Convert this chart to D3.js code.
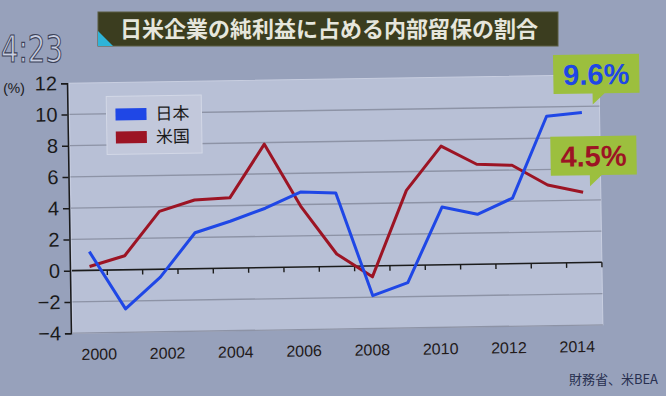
<!DOCTYPE html>
<html>
<head>
<meta charset="utf-8">
<script src="https://cdn.jsdelivr.net/npm/d3@7"></script>
<style>
  body { margin: 0; background: #97a1bb; }
  svg { display: block; }
</style>
</head>
<body>
<script>
// data
var years = [2000, 2001, 2002, 2003, 2004, 2005, 2006, 2007, 2008, 2009, 2010, 2011, 2012, 2013, 2014];
var japan = [1.2, -2.5, -0.5, 2.3, 3.0, 3.8, 4.8, 4.7, -1.9, -1.1, 3.7, 3.2, 4.2, 9.4, 9.6];
var usa   = [0.25, 0.9, 3.7, 4.4, 4.5, 7.9, 3.9, 0.8, -0.7, 4.8, 7.6, 6.4, 6.3, 5.0, 4.5];
var yTicks = [-4, -2, 0, 2, 4, 6, 8, 10, 12];
var xLabels = [2000, 2002, 2004, 2006, 2008, 2010, 2012, 2014];
var seriesNames = ["日本", "米国"];
var seriesColors = ["#1f47e6", "#9c1424"];
var lastLabels = ["9.6%", "4.5%"];

var svgWidth = 666, svgHeight = 396;

var svg = d3.select("body")
    .append("svg")
    .attr("width", svgWidth)
    .attr("height", svgHeight);

svg.append("rect")
    .attr("width", svgWidth)
    .attr("height", svgHeight)
    .attr("fill", "#97a1bb");

// title bar
svg.append("rect")
    .attr("x", 98).attr("y", 12)
    .attr("width", 460).attr("height", 34)
    .attr("fill", "#3b3d1f")
    .attr("stroke", "#5a5c40");
svg.append("path")
    .attr("d", "M98,31 L98,46 L113,46 Z")
    .attr("fill", "#2fb4d8");
svg.append("text")
    .attr("x", 329).attr("y", 37)
    .attr("text-anchor", "middle")
    .attr("font-family", "Noto Sans CJK JP")
    .attr("font-size", 22)
    .attr("font-weight", "bold")
    .attr("fill", "#e6e6dc")
    .text("日米企業の純利益に占める内部留保の割合");

// clock
svg.append("text")
    .attr("x", 1).attr("y", 62)
    .attr("font-family", "DejaVu Sans")
    .attr("font-size", 38)
    .attr("textLength", 62)
    .attr("lengthAdjust", "spacingAndGlyphs")
    .attr("fill", "#c9cfe2")
    .attr("stroke", "#3c4258")
    .attr("stroke-width", 1.2)
    .text("4:23");

// source
svg.append("text")
    .attr("x", 658).attr("y", 384)
    .attr("text-anchor", "end")
    .attr("font-family", "Noto Sans CJK JP")
    .attr("font-size", 13)
    .attr("fill", "#283050")
    .text("財務省、米BEA");

// chart, slightly tilted like the photo
var chart = svg.append("g")
    .attr("transform", "rotate(-0.9, 335, 208)");

var x = d3.scaleBand()
    .domain(years)
    .range([71, 601]);

var xLab = d3.scaleLinear()
    .domain([2000, 2014])
    .range([97, 575]);

var y = d3.scaleLinear()
    .domain([-4, 12])
    .range([329, 79]);

// panel
chart.append("rect")
    .attr("x", x.range()[0]).attr("y", y(12))
    .attr("width", x.range()[1] - x.range()[0])
    .attr("height", y(-4) - y(12))
    .attr("fill", "#b8c0d6")
    .attr("stroke", "#c8cee0")
    .attr("stroke-width", 1);

// gridlines
chart.append("g")
    .selectAll("line")
    .data(yTicks.filter(function(d) { return d !== 0 && d !== 12; }))
    .enter()
    .append("line")
    .attr("x1", x.range()[0]).attr("x2", x.range()[1])
    .attr("y1", function(d) { return y(d); })
    .attr("y2", function(d) { return y(d); })
    .attr("stroke", "#8d93a6")
    .attr("stroke-width", 1.3);

// y axis
var yAxis = chart.append("g")
    .attr("transform", "translate(69,0)")
    .call(d3.axisLeft(y).tickValues(yTicks).tickSize(6).tickPadding(4));
yAxis.select(".domain").attr("stroke", "#1a1a1a").attr("stroke-width", 1.5);
yAxis.selectAll(".tick line").attr("stroke", "#1a1a1a").attr("stroke-width", 1.5);
yAxis.selectAll(".tick text")
    .attr("font-family", "Liberation Sans")
    .attr("font-size", 20)
    .attr("fill", "#1a1a1a");

chart.append("text")
    .attr("x", 5).attr("y", 88)
    .attr("font-family", "Liberation Sans")
    .attr("font-size", 14)
    .attr("fill", "#1a1a1a")
    .text("(%)");

// zero line with ticks at the band edges
chart.append("line")
    .attr("x1", x.range()[0]).attr("x2", x.range()[1])
    .attr("y1", y(0)).attr("y2", y(0))
    .attr("stroke", "#1c1c1c")
    .attr("stroke-width", 1.6);
chart.append("g")
    .selectAll("line")
    .data(years)
    .enter()
    .append("line")
    .attr("x1", function(d) { return x(d) + x.bandwidth(); })
    .attr("x2", function(d) { return x(d) + x.bandwidth(); })
    .attr("y1", y(0))
    .attr("y2", y(0) + 5)
    .attr("stroke", "#1c1c1c")
    .attr("stroke-width", 1.4);

// x labels
chart.append("g")
    .selectAll("text")
    .data(xLabels)
    .enter()
    .append("text")
    .attr("x", function(d) { return xLab(d); })
    .attr("y", 356)
    .attr("text-anchor", "middle")
    .attr("font-family", "Liberation Sans")
    .attr("font-size", 16)
    .attr("fill", "#221a1a")
    .text(function(d) { return d; });

// lines
var line = d3.line()
    .x(function(d, i) { return x(years[i]) + x.bandwidth() / 2; })
    .y(function(d) { return y(d); });

[usa, japan].forEach(function(s, k) {
    chart.append("path")
        .datum(s)
        .attr("d", line)
        .attr("fill", "none")
        .attr("stroke", k === 0 ? seriesColors[1] : seriesColors[0])
        .attr("stroke-width", 3)
        .attr("stroke-linejoin", "round");
});

// legend
var legend = chart.append("g");
legend.append("rect")
    .attr("x", 108).attr("y", 93)
    .attr("width", 95).attr("height", 58)
    .attr("fill", "#c2c8db")
    .attr("stroke", "#d2d7e6");
seriesNames.forEach(function(n, i) {
    legend.append("rect")
        .attr("x", 117).attr("y", 105 + i * 23)
        .attr("width", 31).attr("height", 12)
        .attr("fill", seriesColors[i]);
    legend.append("text")
        .attr("x", 157).attr("y", 117 + i * 23)
        .attr("font-family", "Noto Sans CJK JP")
        .attr("font-size", 17)
        .attr("fill", "#1a1a1a")
        .text(n);
});

// end-value callouts
var lastJ = japan[japan.length - 1], lastU = usa[usa.length - 1];
var endX = x(2014) + x.bandwidth() / 2;
var callouts = [
    { v: lastJ, label: lastLabels[0], color: seriesColors[0], tipX: endX + 11, tipY: y(lastJ) - 8 },
    { v: lastU, label: lastLabels[1], color: seriesColors[1], tipX: endX + 7, tipY: y(lastU) - 6 }
];
callouts.forEach(function(c) {
    var bx = c.tipX - 39, by = c.tipY - 50, bw = 86, bh = 39;
    chart.append("path")
        .attr("d", "M" + bx + "," + by + " h" + bw + " v" + bh +
              " H" + (c.tipX + 12) + " L" + c.tipX + "," + c.tipY +
              " V" + (by + bh) + " H" + bx + " Z")
        .attr("fill", "#9cbf3e");
    chart.append("text")
        .attr("x", bx + bw / 2).attr("y", by + 30)
        .attr("text-anchor", "middle")
        .attr("font-family", "Liberation Sans")
        .attr("font-weight", "bold")
        .attr("font-size", 29)
        .attr("fill", c.color)
        .text(c.label);
});
</script>
</body>
</html>
